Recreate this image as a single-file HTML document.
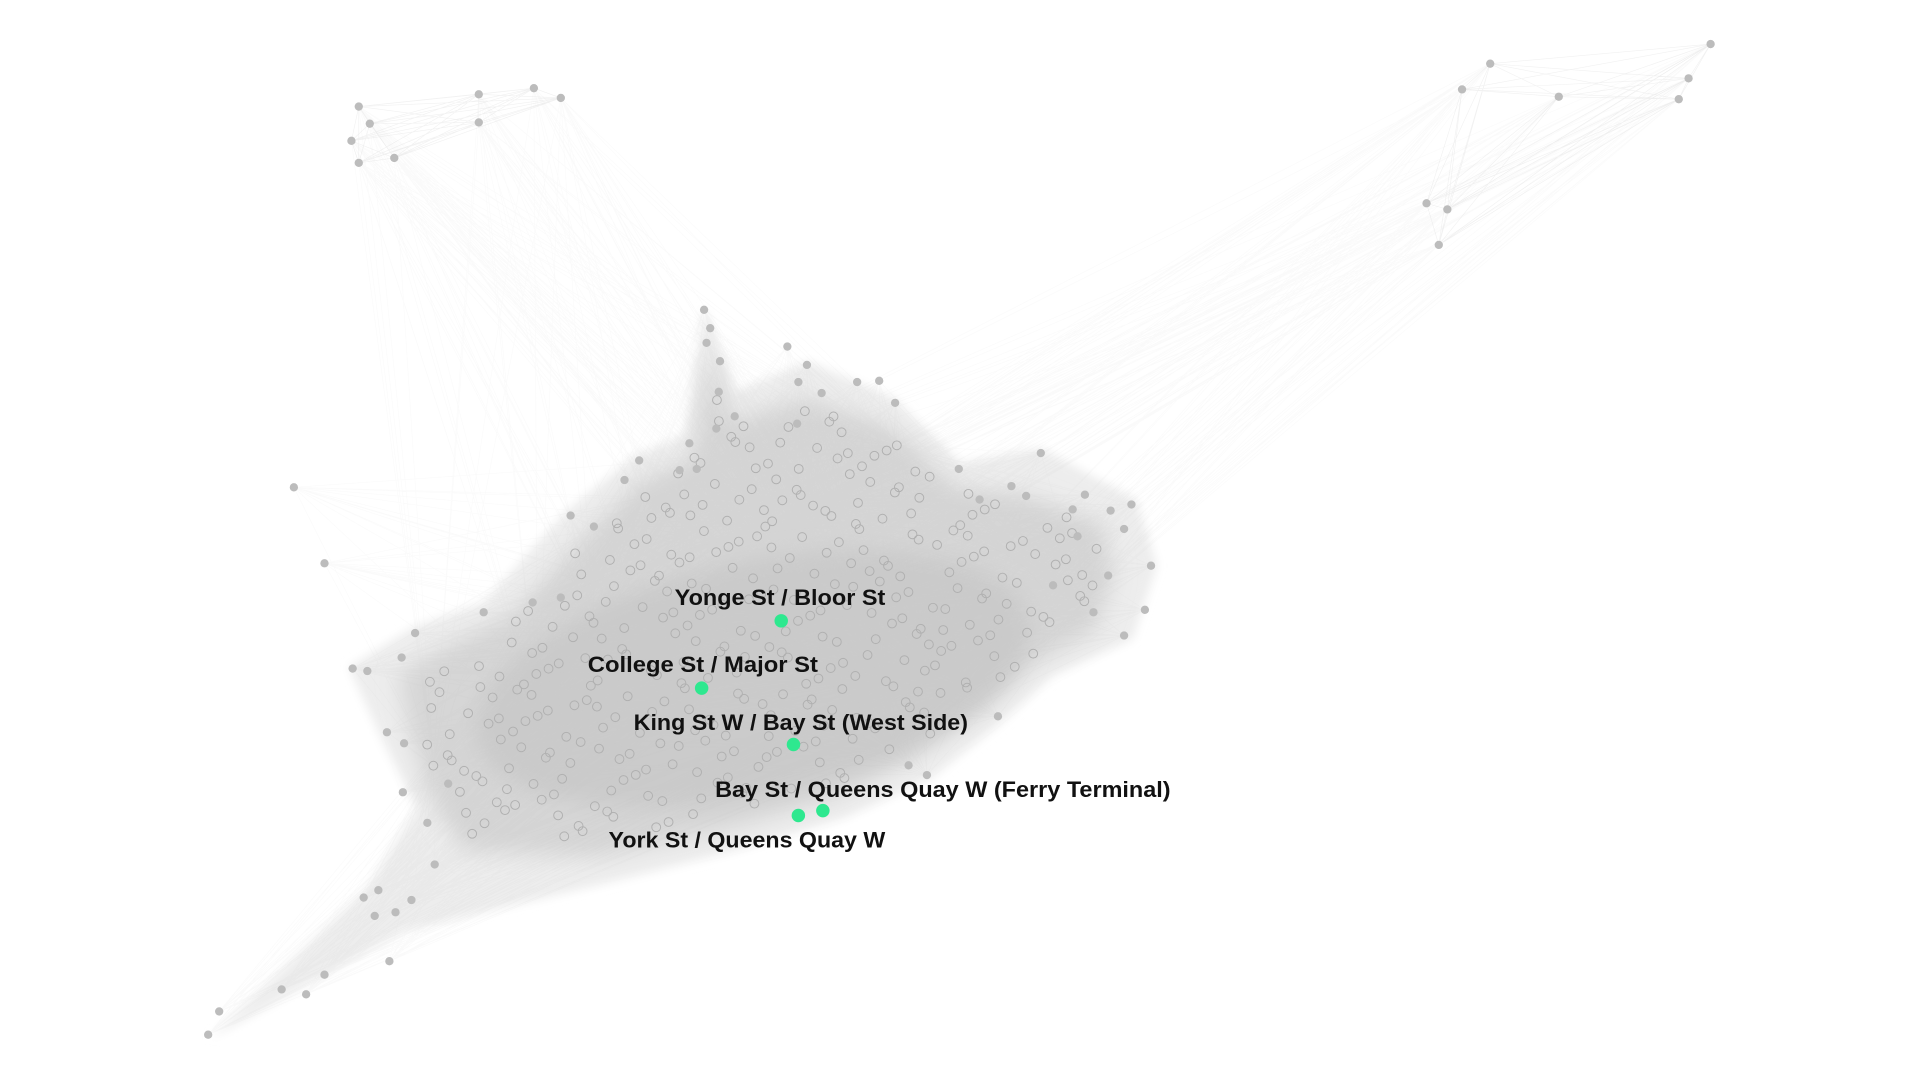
<!DOCTYPE html>
<html><head><meta charset="utf-8"><style>
html,body{margin:0;padding:0;background:#fff;width:1920px;height:1080px;overflow:hidden}
svg{display:block}
text{font-family:"Liberation Sans Narrow","Liberation Sans",sans-serif;font-weight:bold;fill:#111}
</style></head><body>
<svg id="net" width="1920" height="1080" viewBox="0 0 1568 882" xmlns="http://www.w3.org/2000/svg">
<defs><filter id="soft" x="-20%" y="-20%" width="140%" height="140%"><feGaussianBlur stdDeviation="9"/></filter>
<filter id="soft2" x="-20%" y="-20%" width="140%" height="140%"><feGaussianBlur stdDeviation="4"/></filter></defs>
<g id="blob">
<polygon fill="#ededed" filter="url(#soft2)" points="575,250 600,320 660,295 730,325 785,378 850,366 928,408 945,462 925,522 860,552 818,590 760,636 690,668 600,695 480,725 330,760 172,848 300,725 340,660 310,600 285,545 338,512 395,492 462,418 518,372 560,355"/>
<polygon fill="#d6d6d6" filter="url(#soft)" points="580,285 598,345 655,325 730,350 780,398 840,405 900,428 910,470 895,515 840,545 790,585 740,622 680,652 600,676 490,700 380,695 350,650 335,600 325,552 370,525 420,500 470,445 520,395 565,375"/>
<ellipse cx="615" cy="555" rx="230" ry="95" fill="#cbcbcb" filter="url(#soft)" transform="rotate(-12 615 555)"/>
</g>
<g id="edges"></g>
<g id="nodes"></g>
<g id="hl"></g>
<g id="labels"></g>
</svg>
<script>
const outerX=[293,302,287,293,322,391,436,458,391,1217,1194,1273,1397,1379,1371,1165,1182,1175,240,265,170,179,230,250,265,318,297,309,306,323,336,355,575,580,577,588,643,659,652,671,700,718,731,651,587,600,563,585,522,510,555,569,466,485,850,783,826,838,800,886,876,907,924,918,940,935,918,893,905,880,860,815,757,742,339,288,300,328,316,330,329,349,366,395,435,458];
const outerY=[87,101,115,133,129,77,72,80,100,52,73,79,36,64,81,166,171,200,398,460,845,826,808,812,796,785,733,727,748,745,735,706,253,268,280,295,283,298,312,321,312,311,329,346,320,340,362,350,376,392,384,383,421,430,370,383,397,405,408,404,416,417,412,432,462,498,519,500,470,438,478,585,633,625,517,546,548,537,598,607,647,672,640,500,492,488];
const hlX=[638,573,648,672,652];
const hlY=[507,562,608,662,666];
const labels=["Yonge St / Bloor St","College St / Major St","King St W / Bay St (West Side)","Bay St / Queens Quay W (Ferry Terminal)","York St / Queens Quay W"];
const labelX=[637,574,654,584,610];
const labelY=[494,549,596,651,692];
const labelW=[172,188,273,372,226];
const labelAnchor=["middle","middle","middle","start","middle"];
const NS="http://www.w3.org/2000/svg";
const eg=document.getElementById('edges'),ng=document.getElementById('nodes'),hg=document.getElementById('hl'),lg=document.getElementById('labels');
// interior layout region
const region=[[585,300],[600,350],[655,330],[730,355],[780,400],[840,410],[895,432],[905,470],[890,512],[840,540],[790,580],[740,615],[680,645],[600,668],[490,690],[385,685],[358,645],[345,600],[340,555],[380,530],[425,505],[470,450],[520,400],[565,380]];
function inside(x,y){let c=false;for(let i=0,j=region.length-1;i<region.length;j=i++){const [xi,yi]=region[i],[xj,yj]=region[j];if(((yi>y)!=(yj>y))&&(x<(xj-xi)*(y-yi)/(yj-yi)+xi))c=!c;}return c;}
function halton(i,b){let f=1,r=0;while(i>0){f/=b;r+=f*(i%b);i=Math.floor(i/b);}return r;}
const inner=[];
for(let i=1;inner.length<360&&i<3000;i++){
  const x=340+halton(i,2)*570,y=300+halton(i,3)*390;
  if(inside(x,y))inner.push([x,y]);
}
let ed='';
const hubs=inner.filter((p,i)=>i%12===0);
for(let i=0;i<outerX.length;i++){
  for(let k=0;k<hubs.length;k+=2){
    ed+=`M${outerX[i]},${outerY[i]}L${hubs[k][0].toFixed(1)},${hubs[k][1].toFixed(1)}`;
  }
}
const ep=document.createElementNS(NS,'path');
ep.setAttribute('d',ed);ep.setAttribute('stroke','#bbbbbb');ep.setAttribute('stroke-opacity','0.08');ep.setAttribute('stroke-width','0.5');ep.setAttribute('fill','none');


eg.appendChild(ep);
let ce='';
const tl=[0,1,2,3,4,5,6,7,8],tr=[9,10,11,12,13,14,15,16,17];
[tl,tr].forEach(g=>g.forEach(a=>g.forEach(b=>{if(a<b)ce+=`M${outerX[a]},${outerY[a]}L${outerX[b]},${outerY[b]}`;})));
const cp=document.createElementNS(NS,'path');
cp.setAttribute('d',ce);cp.setAttribute('stroke','#d6d6d6');cp.setAttribute('stroke-opacity','0.35');cp.setAttribute('stroke-width','0.5');cp.setAttribute('fill','none');


eg.appendChild(cp);
inner.forEach(p=>{
  const c=document.createElementNS(NS,'circle');
  c.setAttribute('cx',p[0].toFixed(1));c.setAttribute('cy',p[1].toFixed(1));c.setAttribute('r','3.6');
  c.setAttribute('fill','none');c.setAttribute('stroke','#b0b0b0');c.setAttribute('stroke-width','0.8');
  
  
  ng.appendChild(c);
});
for(let i=0;i<outerX.length;i++){
  const c=document.createElementNS(NS,'circle');
  c.setAttribute('cx',outerX[i]);c.setAttribute('cy',outerY[i]);c.setAttribute('r','3.4');c.setAttribute('fill','#bcbcbc');
  
  
  ng.appendChild(c);
}
for(let i=0;i<hlX.length;i++){
  const c=document.createElementNS(NS,'circle');
  c.setAttribute('cx',hlX[i]);c.setAttribute('cy',hlY[i]);c.setAttribute('r','5.5');c.setAttribute('fill','#2ee88f');
  
  
  hg.appendChild(c);
  const t=document.createElementNS(NS,'text');
  t.setAttribute('x',labelX[i]);t.setAttribute('y',labelY[i]);t.setAttribute('font-size','18');
  t.setAttribute('text-anchor',labelAnchor[i]);t.setAttribute('textLength',labelW[i]);t.setAttribute('lengthAdjust','spacingAndGlyphs');
  t.textContent=labels[i];
  
  
  lg.appendChild(t);
}
</script>
</body></html>
